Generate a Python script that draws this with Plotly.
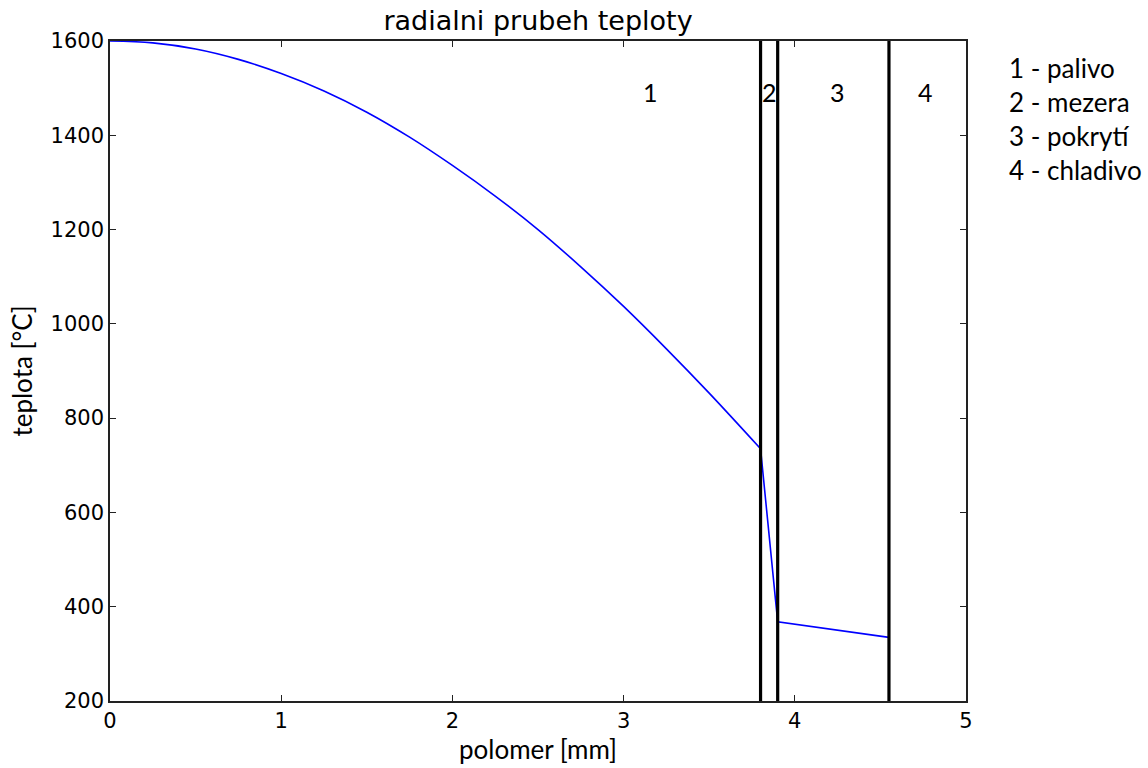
import plotly.graph_objects as go

# Temperature profile in fuel
fuel_r = [0.0, 0.25, 0.5, 0.75, 1.0, 1.25, 1.5, 1.75, 2.0, 2.25, 2.5, 2.75,
          3.0, 3.25, 3.5, 3.8]
fuel_t = [1600, 1596, 1583, 1561, 1531, 1494, 1449, 1396, 1336, 1271, 1200, 1121,
          1037, 947, 853, 735]
# Gap and cladding
outer_r = [3.8, 3.9, 4.55]
outer_t = [735, 368, 335]

# Region boundaries
boundaries = [3.8, 3.9, 4.55]

# Region labels
region_labels = ["1", "2", "3", "4"]
region_label_x = [3.16, 3.85, 4.25, 4.765]
region_label_y = 1492

legend_texts = ["1 - palivo", "2 - mezera", "3 - pokrytí", "4 - chladivo"]

title = "radialni prubeh teploty"
xlabel = "polomer [mm]"
ylabel = "teplota [°C]"

L, R, T, B = 110, 966, 41, 701
W, H = 1148, 768

fig = go.Figure()
fig.add_trace(go.Scatter(x=fuel_r, y=fuel_t, mode="lines", line_shape="spline",
                         line=dict(color="#0000ff", width=1.6), showlegend=False))
fig.add_trace(go.Scatter(x=outer_r, y=outer_t, mode="lines",
                         line=dict(color="#0000ff", width=1.6), showlegend=False))
for b in boundaries:
    fig.add_trace(go.Scatter(x=[b, b], y=[200, 1600], mode="lines",
                             line=dict(color="black", width=3.2), showlegend=False))

annotations = []
for lab, xx in zip(region_labels, region_label_x):
    annotations.append(dict(x=xx, y=region_label_y, xref="x", yref="y", text=lab,
                            showarrow=False, font=dict(family="Lato", size=25, color="black")))
for i, t in enumerate(legend_texts):
    px_y = 68 + 34 * i
    annotations.append(dict(x=(1007 - L) / (R - L), y=(B - px_y) / (B - T),
                            xref="paper", yref="paper",
                            text=t, showarrow=False, xanchor="left", yanchor="middle",
                            font=dict(family="Lato", size=26, color="black")))

fig.update_layout(
    width=W, height=H,
    margin=dict(l=L, r=W - R, t=T, b=H - B),
    paper_bgcolor="white", plot_bgcolor="white",
    title=dict(text=title, x=(L + R) / 2 / W, xanchor="center",
               y=1 - 21 / H, yanchor="middle",
               font=dict(family="DejaVu Sans", size=27, color="black")),
    xaxis=dict(range=[0, 5], tickvals=[0, 1, 2, 3, 4, 5], showgrid=False, zeroline=False,
               showline=True, linecolor="#222222", linewidth=1.5, mirror="ticks",
               ticks="inside", ticklen=6, tickcolor="#222222",
               tickfont=dict(family="DejaVu Sans", size=21, color="black"),
               title=dict(text=xlabel, font=dict(family="Lato", size=26, color="black"),
                          standoff=6)),
    yaxis=dict(range=[200, 1600], tickvals=[200, 400, 600, 800, 1000, 1200, 1400, 1600],
               showgrid=False, zeroline=False,
               showline=True, linecolor="#222222", linewidth=1.5, mirror="ticks",
               ticks="inside", ticklen=6, tickcolor="#222222",
               tickfont=dict(family="DejaVu Sans", size=21, color="black"),
               title=dict(text=ylabel, font=dict(family="Lato", size=26, color="black"),
                          standoff=10)),
    annotations=annotations,
)

fig.write_html("out.html", config={"displayModeBar": False})
# remove default browser body margin so the figure sits at the page origin
with open("out.html", encoding="utf-8") as f:
    html = f.read()
html = html.replace("<head>", "<head><style>html,body{margin:0;padding:0;overflow:hidden;}</style>", 1)
with open("out.html", "w", encoding="utf-8") as f:
    f.write(html)
